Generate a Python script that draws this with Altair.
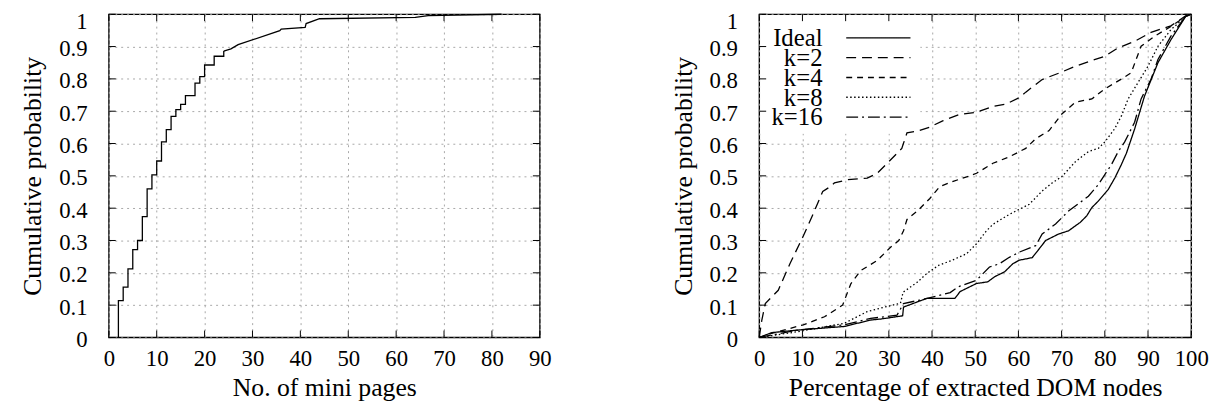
import altair as alt
import pandas as pd

# ---------------- data: left panel (CDF of number of mini pages) ----------------
mini_step_x = [2, 2, 3, 4, 5, 6, 7, 8, 9, 10, 11, 12, 13, 14, 15, 16, 18, 19, 20, 22, 24]
mini_step_y = [0, 0.114, 0.156, 0.212, 0.272, 0.300, 0.374, 0.460, 0.503, 0.546, 0.605,
               0.643, 0.684, 0.705, 0.721, 0.748, 0.787, 0.807, 0.843, 0.870, 0.886]
mini_tail_x = [24, 25.5, 27, 35.7, 36, 41, 41.2, 44, 64, 66.7, 82]
mini_tail_y = [0.886, 0.893, 0.906, 0.949, 0.954, 0.959, 0.971, 0.986, 0.990, 0.996, 1.0]

mini_ticks = [0, 10, 20, 30, 40, 50, 60, 70, 80, 90]
pct_ticks = [0, 10, 20, 30, 40, 50, 60, 70, 80, 90, 100]
prob_ticks = [0, 0.1, 0.2, 0.3, 0.4, 0.5, 0.6, 0.7, 0.8, 0.9, 1.0]

# ---------------- data: right panel (CDF of extracted DOM nodes) ----------------
series_names = ["Ideal", "k=2", "k=4", "k=8", "k=16"]

ideal_x = [0, 2.9, 9, 19.7, 25.8, 28.1, 33.2, 33.4, 38.8, 45.3, 46.5, 50.3, 52.9, 54.5, 56.8,
           58.7, 60.2, 63.2, 64.8, 66.3, 69.3, 71.6, 74.3, 75.8, 77, 78.5, 80.8, 82.3, 83.8,
           85, 86.9, 89.2, 92.3, 95.3, 98.7, 100]
ideal_y = [0, 0.015, 0.023, 0.034, 0.054, 0.057, 0.067, 0.094, 0.121, 0.121, 0.142, 0.167,
           0.172, 0.188, 0.203, 0.228, 0.239, 0.247, 0.274, 0.300, 0.320, 0.330, 0.356, 0.376,
           0.402, 0.422, 0.458, 0.493, 0.534, 0.570, 0.645, 0.747, 0.850, 0.921, 0.993, 1.0]

k2_x = [0, 0.6, 1.4, 4.4, 7.1, 10.2, 12.4, 14.7, 15.9, 17.4, 20.5, 25, 27.3, 30, 33, 34.2,
        36.5, 39.5, 42.6, 46.4, 50.3, 54.1, 57.1, 60.2, 61.7, 65.5, 69.4, 73.2, 77, 80, 83.1,
        86.9, 90.7, 95.3, 98.7, 100]
k2_y = [0, 0.054, 0.105, 0.146, 0.228, 0.314, 0.380, 0.452, 0.462, 0.478, 0.488, 0.493,
        0.508, 0.544, 0.585, 0.633, 0.638, 0.651, 0.671, 0.690, 0.697, 0.715, 0.722, 0.742,
        0.759, 0.798, 0.818, 0.839, 0.857, 0.870, 0.896, 0.916, 0.944, 0.964, 0.995, 1.0]

k4_x = [0, 2.9, 10.2, 15.1, 19.3, 21.2, 23.5, 27.3, 30.4, 32.3, 33.4, 34.2, 36.5, 39.5, 41.8,
        44.9, 48.7, 50.3, 54.1, 57.9, 61.7, 64, 67.1, 70.1, 73.2, 77, 80, 83.9, 86.1, 88.4,
        91.5, 95.3, 98.7, 100]
k4_y = [0, 0.013, 0.039, 0.064, 0.100, 0.166, 0.207, 0.238, 0.279, 0.300, 0.330, 0.365,
        0.390, 0.430, 0.467, 0.483, 0.500, 0.508, 0.539, 0.559, 0.585, 0.615, 0.640, 0.692,
        0.728, 0.738, 0.769, 0.800, 0.819, 0.901, 0.932, 0.962, 0.993, 1.0]

k8_x = [0, 9, 19.7, 25, 28.1, 32.7, 33.3, 36.5, 38.8, 41.5, 44.5, 48, 50.3, 52.6, 54.1, 57.9,
        62.5, 65.5, 67.8, 70.1, 73.2, 76.2, 78.5, 80, 82.3, 83.9, 85.4, 87.7, 90, 92.3, 95.3,
        98.7, 100]
k8_y = [0, 0.018, 0.044, 0.080, 0.091, 0.106, 0.140, 0.170, 0.198, 0.223, 0.238, 0.259,
        0.290, 0.330, 0.350, 0.381, 0.412, 0.453, 0.478, 0.498, 0.544, 0.575, 0.585, 0.605,
        0.646, 0.687, 0.738, 0.789, 0.839, 0.901, 0.952, 0.993, 1.0]

k16_x = [0, 9, 19.7, 25.8, 31.9, 33.4, 38, 44.2, 46.1, 50.3, 53.3, 55.6, 57.9, 60.2, 64, 65.5,
         68.6, 71.6, 76.2, 78.5, 80, 81.5, 83.1, 84.6, 86.9, 88.4, 90.7, 92.3, 95.3, 98.7, 100]
k16_y = [0, 0.023, 0.039, 0.059, 0.069, 0.105, 0.118, 0.139, 0.157, 0.177, 0.218, 0.228,
         0.248, 0.264, 0.284, 0.320, 0.351, 0.391, 0.437, 0.473, 0.504, 0.534, 0.575, 0.605,
         0.666, 0.738, 0.799, 0.860, 0.932, 0.993, 1.0]

series_x = [ideal_x, k2_x, k4_x, k8_x, k16_x]
series_y = [ideal_y, k2_y, k4_y, k8_y, k16_y]

# ---------------- styles ----------------
FONT = "Liberation Serif"
DASHES = [[1, 0], [10, 6], [6, 5], [1.5, 2.5], [12, 4, 2, 4]]
LW = 1.3
H = 327
WL = 436
WR = 437
TICK = 7

yscale = alt.Scale(domain=[0, 1], nice=False, zero=False)
yaxis = alt.Axis(values=prob_ticks, title="Cumulative probability", format=".1~f")
xscale_l = alt.Scale(domain=[0, 90], nice=False, zero=False)
xaxis_l = alt.Axis(values=mini_ticks, title="No. of mini pages", format="d")
xscale_r = alt.Scale(domain=[0, 100], nice=False, zero=False)
xaxis_r = alt.Axis(values=pct_ticks, title="Percentage of extracted DOM nodes", format="d")


def frame_ticks(xvals, yvals, xscale, xaxis, W):
    dfx = pd.DataFrame({"x": xvals})
    dfy = pd.DataFrame({"y": yvals})
    base_x = alt.Chart(dfx).mark_rule(color="black", strokeWidth=1)
    base_y = alt.Chart(dfy).mark_rule(color="black", strokeWidth=1)
    xe = alt.X("x:Q", scale=xscale, axis=xaxis)
    ye = alt.Y("y:Q", scale=yscale, axis=yaxis)
    return [
        base_x.encode(x=xe, y=alt.value(H), y2=alt.value(H - TICK)),
        base_x.encode(x=xe, y=alt.value(0), y2=alt.value(TICK)),
        base_y.encode(y=ye, x=alt.value(0), x2=alt.value(TICK)),
        base_y.encode(y=ye, x=alt.value(W), x2=alt.value(W - TICK)),
    ]


# ---------------- left panel ----------------
df_step = pd.DataFrame({"x": mini_step_x, "y": mini_step_y, "i": range(len(mini_step_x))})
df_tail = pd.DataFrame({"x": mini_tail_x, "y": mini_tail_y, "i": range(len(mini_tail_x))})

step = alt.Chart(df_step).mark_line(interpolate="step-after", color="black", strokeWidth=LW).encode(
    x=alt.X("x:Q", scale=xscale_l, axis=xaxis_l),
    y=alt.Y("y:Q", scale=yscale, axis=yaxis),
    order=alt.Order("i:Q"),
)
tail = alt.Chart(df_tail).mark_line(color="black", strokeWidth=LW).encode(
    x=alt.X("x:Q", scale=xscale_l, axis=xaxis_l),
    y=alt.Y("y:Q", scale=yscale, axis=yaxis),
    order=alt.Order("i:Q"),
)
left = alt.layer(step, tail, *frame_ticks(mini_ticks, prob_ticks, xscale_l, xaxis_l, WL)).properties(
    width=WL, height=H)

# ---------------- right panel ----------------
layers = []
for k, name in enumerate(series_names):
    df = pd.DataFrame({"x": series_x[k], "y": series_y[k], "i": range(len(series_x[k]))})
    layers.append(
        alt.Chart(df).mark_line(color="black", strokeWidth=LW, strokeDash=DASHES[k]).encode(
            x=alt.X("x:Q", scale=xscale_r, axis=xaxis_r),
            y=alt.Y("y:Q", scale=yscale, axis=yaxis),
            order=alt.Order("i:Q"))
    )

one = pd.DataFrame({"a": [0]})
legend_box = alt.Chart(one).mark_rect(fill="white").encode(
    x=alt.value(1), x2=alt.value(163), y=alt.value(1), y2=alt.value(121))
legend_layers = []
for k, name in enumerate(series_names):
    cy = 24 + 20 * k
    legend_layers.append(
        alt.Chart(one).mark_text(text=name, align="right", baseline="alphabetic", font=FONT,
                                 fontSize=25, color="black").encode(
            x=alt.value(64), y=alt.value(cy + 8.5)))
    legend_layers.append(
        alt.Chart(one).mark_rule(color="black", strokeWidth=LW, strokeDash=DASHES[k]).encode(
            x=alt.value(88), x2=alt.value(153), y=alt.value(cy)))

right = alt.layer(legend_box, *layers, *legend_layers,
                  *frame_ticks(pct_ticks, prob_ticks, xscale_r, xaxis_r, WR)).properties(
    width=WR, height=H)

chart = alt.hconcat(left, right, spacing=118).properties(
    padding={"left": 11, "top": -1, "right": 0, "bottom": 0}
).configure_view(
    stroke="black", strokeWidth=1.4
).configure_axis(
    labelFont=FONT, labelFontSize=23, labelColor="black", labelOverlap=False, labelFlush=False,
    titleFont=FONT, titleFontSize=26, titleFontWeight="normal", titleColor="black",
    domain=False, ticks=False, tickSize=0,
    grid=True, gridColor="#a8a8a8", gridDash=[2, 4], gridWidth=1,
).configure_axisX(
    labelPadding=10, titlePadding=5,
).configure_axisY(
    labelPadding=22, titlePadding=13,
    labelOffset=alt.condition("datum.value == 1", alt.value(7), alt.value(2)),
)

chart.save("out.html", embed_options={"renderer": "svg", "actions": False})
